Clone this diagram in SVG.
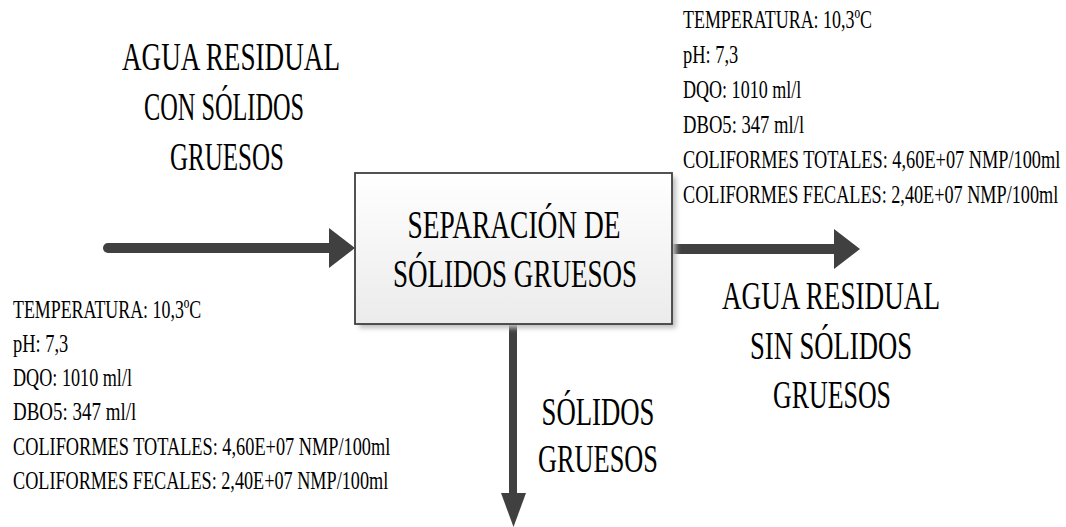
<svg xmlns="http://www.w3.org/2000/svg" width="1066" height="527" viewBox="0 0 1066 527">
<defs>
<linearGradient id="boxfill" x1="0" y1="0" x2="0" y2="1">
<stop offset="0" stop-color="#ffffff"/>
<stop offset="1" stop-color="#ebebeb"/>
</linearGradient>
<filter id="shadow" x="-10%" y="-10%" width="130%" height="130%">
<feGaussianBlur stdDeviation="2.5"/>
</filter>
</defs>
<style>
.big{font-family:"Liberation Serif","Times New Roman",serif;font-size:40px;fill:#000;text-anchor:middle}
.small{font-family:"Liberation Serif","Times New Roman",serif;font-size:26px;fill:#000}
.line{stroke:#404040;fill:none;stroke-linecap:round}
.head{fill:#404040}
</style>
<rect width="1066" height="527" fill="#ffffff"/>
<g id="connectors">
<line class="line" x1="108" y1="248" x2="333" y2="248" stroke-width="10"/>
<polygon class="head" points="329,228 355,248 329,268"/>
<line class="line" x1="672" y1="249" x2="838" y2="249" stroke-width="10"/>
<polygon class="head" points="834,229 860,249 834,269"/>
<line class="line" x1="513" y1="323" x2="513" y2="497" stroke-width="8"/>
<polygon class="head" points="501,493 526,493 513.5,527"/>
</g>
<g id="node-separacion">
<rect x="359" y="177" width="317" height="151" fill="#bdbdbd" filter="url(#shadow)"/>
<rect x="355" y="173" width="317" height="151" fill="url(#boxfill)" stroke="#404040" stroke-width="1.8"/>
<text class="big" x="514" y="238" textLength="213" lengthAdjust="spacingAndGlyphs">SEPARACIÓN DE</text>
<text class="big" x="515" y="287" textLength="244" lengthAdjust="spacingAndGlyphs">SÓLIDOS GRUESOS</text>
</g>
<g id="label-entrada">
<text class="big" x="231" y="70" textLength="218" lengthAdjust="spacingAndGlyphs">AGUA RESIDUAL</text>
<text class="big" x="224" y="120" textLength="160" lengthAdjust="spacingAndGlyphs">CON SÓLIDOS</text>
<text class="big" x="227" y="170" textLength="114" lengthAdjust="spacingAndGlyphs">GRUESOS</text>
</g>
<g id="label-salida">
<text class="big" x="831" y="309" textLength="218" lengthAdjust="spacingAndGlyphs">AGUA RESIDUAL</text>
<text class="big" x="831" y="359" textLength="162" lengthAdjust="spacingAndGlyphs">SIN SÓLIDOS</text>
<text class="big" x="832" y="408" textLength="118" lengthAdjust="spacingAndGlyphs">GRUESOS</text>
</g>
<g id="label-solidos">
<text class="big" x="598" y="425" textLength="113" lengthAdjust="spacingAndGlyphs">SÓLIDOS</text>
<text class="big" x="598" y="472" textLength="120" lengthAdjust="spacingAndGlyphs">GRUESOS</text>
</g>
<g id="params-entrada" transform="translate(13,0) scale(0.7,1)">
<text class="small" x="0" y="318" textLength="269" lengthAdjust="spacingAndGlyphs">TEMPERATURA: 10,3ºC</text>
<text class="small" x="0" y="352" textLength="79" lengthAdjust="spacingAndGlyphs">pH: 7,3</text>
<text class="small" x="0" y="386" textLength="170" lengthAdjust="spacingAndGlyphs">DQO: 1010 ml/l</text>
<text class="small" x="0" y="420" textLength="176" lengthAdjust="spacingAndGlyphs">DBO5: 347  ml/l</text>
<text class="small" x="0" y="455" textLength="539" lengthAdjust="spacingAndGlyphs">COLIFORMES TOTALES: 4,60E+07 NMP/100ml</text>
<text class="small" x="0" y="489" textLength="536" lengthAdjust="spacingAndGlyphs">COLIFORMES FECALES: 2,40E+07 NMP/100ml</text>
</g>
<g id="params-salida" transform="translate(683,0) scale(0.7,1)">
<text class="small" x="0" y="28" textLength="270" lengthAdjust="spacingAndGlyphs">TEMPERATURA: 10,3ºC</text>
<text class="small" x="0" y="63" textLength="79" lengthAdjust="spacingAndGlyphs">pH: 7,3</text>
<text class="small" x="0" y="98" textLength="169" lengthAdjust="spacingAndGlyphs">DQO: 1010 ml/l</text>
<text class="small" x="0" y="133" textLength="173" lengthAdjust="spacingAndGlyphs">DBO5: 347  ml/l</text>
<text class="small" x="0" y="168" textLength="539" lengthAdjust="spacingAndGlyphs">COLIFORMES TOTALES: 4,60E+07 NMP/100ml</text>
<text class="small" x="0" y="203" textLength="536" lengthAdjust="spacingAndGlyphs">COLIFORMES FECALES: 2,40E+07 NMP/100ml</text>
</g>
</svg>
